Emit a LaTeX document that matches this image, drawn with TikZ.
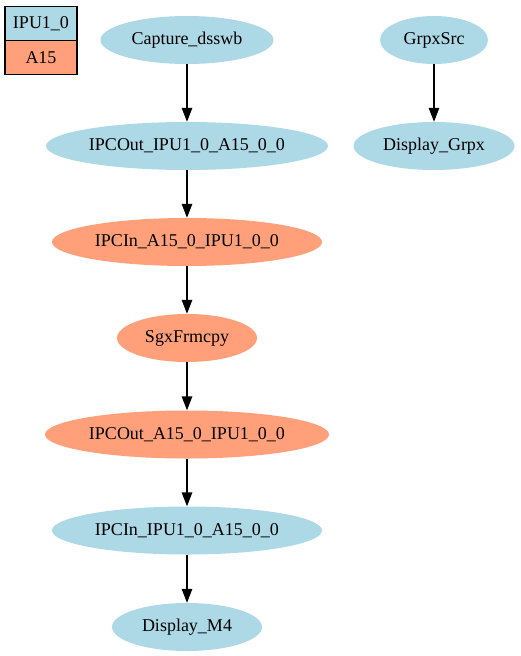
\documentclass[tikz,border=0pt]{standalone}
\usepackage{fontspec}
\setmainfont{Liberation Serif}
\usetikzlibrary{arrows.meta,shapes.geometric}
\definecolor{lb}{HTML}{ADD8E6}
\definecolor{ls}{HTML}{FFA07A}
\tikzset{
  ev/.style={ellipse, draw=none, minimum height=48pt, inner sep=0pt, font=\fontsize{18}{21}\selectfont},
  bl/.style={ev, fill=lb},
  sa/.style={ev, fill=ls},
  legbox/.style={rectangle, draw=black, line width=1.3pt, minimum width=72pt, minimum height=34pt, inner sep=0pt, font=\fontsize{18}{21}\selectfont},
  edge/.style={line width=1.4pt, -{Triangle[length=14pt,width=10.5pt]}}
}
\begin{document}
\begin{tikzpicture}[x=1pt,y=-1pt]
\useasboundingbox (0,0) rectangle (520,656);
\node[legbox, fill=lb] (l1) at (41,23.5) {IPU1\_0};
\node[legbox, fill=ls] (l2) at (41,57.5) {A15};
\node[bl, minimum width=173pt] (cap) at (187,40) {Capture\_dsswb};
\node[bl, minimum width=282pt] (o1) at (187,146) {IPCOut\_IPU1\_0\_A15\_0\_0};
\node[sa, minimum width=270pt] (i1) at (187,242) {IPCIn\_A15\_0\_IPU1\_0\_0};
\node[sa, minimum width=140pt] (sgx) at (187,338) {SgxFrmcpy};
\node[sa, minimum width=284pt] (o2) at (187,434.5) {IPCOut\_A15\_0\_IPU1\_0\_0};
\node[bl, minimum width=270pt] (i2) at (187,530.5) {IPCIn\_IPU1\_0\_A15\_0\_0};
\node[bl, minimum width=150pt] (dm4) at (187,627) {Display\_M4};
\node[bl, minimum width=108pt] (gs) at (434,40) {GrpxSrc};
\node[bl, minimum width=161pt] (dg) at (434,146) {Display\_Grpx};
\draw[edge] (cap) -- (o1);
\draw[edge] (o1) -- (i1);
\draw[edge] (i1) -- (sgx);
\draw[edge] (sgx) -- (o2);
\draw[edge] (o2) -- (i2);
\draw[edge] (i2) -- (dm4);
\draw[edge] (gs) -- (dg);
\end{tikzpicture}
\end{document}
